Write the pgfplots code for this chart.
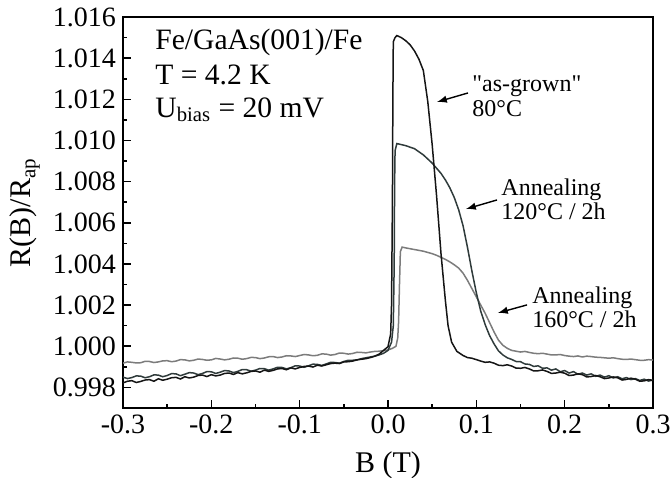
\documentclass[border=0pt]{standalone}
\usepackage{fontspec}
\setmainfont{Liberation Serif}
\newfontfamily\qfont{Liberation Serif}[Ligatures=TeXOff]
\usepackage{pgfplots}
\pgfplotsset{compat=1.18}
\definecolor{cblack}{HTML}{151515}
\definecolor{cdark}{HTML}{2F3B3B}
\definecolor{cgray}{HTML}{7C7C7C}
\begin{document}
\begin{tikzpicture}
\useasboundingbox (-61.5pt,-34.5pt) rectangle (274.5pt,204pt);
\begin{axis}[
  scale only axis, width=265pt, height=195.5pt,
  xmin=-0.3, xmax=0.3, ymin=0.997, ymax=1.016,
  xtick={-0.3,-0.2,-0.1,0,0.1,0.2,0.3},
  ytick={0.998,1.000,1.002,1.004,1.006,1.008,1.010,1.012,1.014,1.016},
  minor x tick num=1, minor y tick num=1,
  tick align=inside, xtick pos=bottom, ytick pos=left,
  major tick length=4pt, minor tick length=2.2pt,
  axis line style={line width=1pt},
  every tick/.style={line width=0.8pt, black},
  tick label style={font=\fontsize{14}{16}\selectfont},
  /pgf/number format/assume math mode=true,
  scaled y ticks=false, scaled x ticks=false,
  yticklabel style={/pgf/number format/.cd, fixed, fixed zerofill, precision=3},
  xticklabel style={/pgf/number format/.cd, fixed, fixed zerofill, precision=1},
  xlabel={B (T)}, ylabel={R(B)/R\textsubscript{ap}},
  label style={font=\fontsize{15}{18}\selectfont},
  xlabel style={at={(axis description cs:0.5,-0.146)}, anchor=center},
  ylabel style={at={(axis description cs:-0.185,0.5)}, anchor=center},
  clip=true,
]
% 160 C / 2h
\addplot[cgray, line width=0.75pt] coordinates {
(-0.30,0.99918)(-0.295,0.99924)(-0.29,0.99922)(-0.285,0.99919)(-0.28,0.99920)(-0.275,0.99927)(-0.27,0.99926)(-0.265,0.99921)(-0.26,0.99924)(-0.255,0.99929)(-0.25,0.99930)(-0.245,0.99925)(-0.24,0.99928)(-0.235,0.99935)(-0.23,0.99934)(-0.225,0.99929)(-0.22,0.99932)(-0.215,0.99938)(-0.21,0.99936)(-0.205,0.99932)(-0.20,0.99934)(-0.195,0.99941)(-0.19,0.99938)(-0.185,0.99934)(-0.18,0.99937)(-0.175,0.99943)(-0.17,0.99942)(-0.165,0.99937)(-0.16,0.99940)(-0.155,0.99946)(-0.15,0.99945)(-0.145,0.99940)(-0.14,0.99943)(-0.135,0.99949)(-0.13,0.99950)(-0.125,0.99945)(-0.12,0.99948)(-0.115,0.99954)(-0.11,0.99953)(-0.105,0.99950)(-0.10,0.99955)(-0.095,0.99960)(-0.09,0.99958)(-0.085,0.99954)(-0.08,0.99956)(-0.075,0.99963)(-0.07,0.99962)(-0.065,0.99957)(-0.06,0.99960)(-0.055,0.99967)(-0.05,0.99966)(-0.045,0.99962)(-0.04,0.99965)(-0.035,0.99971)(-0.03,0.99970)(-0.025,0.99968)(-0.02,0.99972)(-0.015,0.99975)(-0.01,0.99976)(-0.005,0.99979)(0.000,0.99982)(0.005,0.99990)(0.009,1.0000)(0.011,1.0004)(0.012,1.0012)(0.013,1.0030)(0.014,1.0046)(0.016,1.00482)(0.020,1.00478)(0.025,1.00474)(0.030,1.00470)(0.035,1.00466)(0.040,1.00462)(0.045,1.00456)(0.050,1.00450)(0.055,1.00442)(0.060,1.00432)(0.065,1.00422)(0.070,1.00410)(0.075,1.00396)(0.080,1.00380)(0.085,1.00355)(0.090,1.00320)(0.095,1.00280)(0.100,1.00240)(0.105,1.00200)(0.110,1.00160)(0.115,1.00115)(0.120,1.00070)(0.125,1.00030)(0.130,1.00005)(0.135,0.99990)(0.140,0.99980)(0.145,0.99976)(0.15,0.99972)(0.155,0.99975)(0.16,0.99970)(0.165,0.99966)(0.17,0.99964)(0.175,0.99966)(0.18,0.99962)(0.185,0.99958)(0.19,0.99958)(0.195,0.99960)(0.20,0.99955)(0.205,0.99952)(0.21,0.99950)(0.215,0.99953)(0.22,0.99948)(0.225,0.99952)(0.23,0.99950)(0.235,0.99947)(0.24,0.99946)(0.245,0.99944)(0.25,0.99942)(0.255,0.99944)(0.26,0.99940)(0.265,0.99937)(0.27,0.99936)(0.275,0.99938)(0.28,0.99935)(0.285,0.99932)(0.29,0.99932)(0.295,0.99935)(0.30,0.99933)
};
% 120 C / 2h
\addplot[cdark, line width=0.75pt] coordinates {
(-0.30,0.99850)(-0.295,0.99843)(-0.29,0.99848)(-0.285,0.99856)(-0.28,0.99855)(-0.275,0.99847)(-0.27,0.99852)(-0.265,0.99861)(-0.26,0.99860)(-0.255,0.99852)(-0.25,0.99858)(-0.245,0.99867)(-0.24,0.99866)(-0.235,0.99857)(-0.23,0.99864)(-0.225,0.99872)(-0.22,0.99870)(-0.215,0.99862)(-0.21,0.99868)(-0.205,0.99877)(-0.20,0.99876)(-0.195,0.99868)(-0.19,0.99874)(-0.185,0.99882)(-0.18,0.99880)(-0.175,0.99872)(-0.17,0.99878)(-0.165,0.99887)(-0.16,0.99886)(-0.155,0.99879)(-0.15,0.99884)(-0.145,0.99892)(-0.14,0.99891)(-0.135,0.99884)(-0.13,0.99890)(-0.125,0.99898)(-0.12,0.99897)(-0.115,0.99890)(-0.11,0.99896)(-0.105,0.99905)(-0.10,0.99904)(-0.095,0.99898)(-0.09,0.99905)(-0.085,0.99913)(-0.08,0.99912)(-0.075,0.99907)(-0.07,0.99914)(-0.065,0.99922)(-0.06,0.99921)(-0.055,0.99918)(-0.05,0.99926)(-0.045,0.99932)(-0.04,0.99932)(-0.035,0.99934)(-0.03,0.99940)(-0.025,0.99944)(-0.02,0.99948)(-0.015,0.99952)(-0.01,0.99958)(-0.005,0.99966)(0.000,0.99980)(0.004,1.0002)(0.006,1.0010)(0.007,1.0040)(0.0075,1.0080)(0.008,1.0095)(0.010,1.00985)(0.015,1.00980)(0.020,1.00975)(0.030,1.00960)(0.040,1.00930)(0.050,1.00890)(0.060,1.00840)(0.065,1.00808)(0.070,1.00770)(0.075,1.00723)(0.080,1.00663)(0.085,1.00585)(0.090,1.00480)(0.095,1.00365)(0.100,1.00260)(0.105,1.00170)(0.110,1.00105)(0.115,1.00052)(0.120,1.00012)(0.125,0.99978)(0.130,0.99958)(0.135,0.99944)(0.14,0.99936)(0.145,0.99926)(0.15,0.99925)(0.155,0.99914)(0.16,0.99912)(0.165,0.99902)(0.17,0.99905)(0.175,0.99893)(0.18,0.99895)(0.185,0.99884)(0.19,0.99890)(0.195,0.99876)(0.20,0.99882)(0.205,0.99870)(0.21,0.99877)(0.215,0.99864)(0.22,0.99870)(0.225,0.99860)(0.23,0.99866)(0.235,0.99854)(0.24,0.99860)(0.245,0.99850)(0.25,0.99857)(0.255,0.99846)(0.26,0.99852)(0.265,0.99842)(0.27,0.99848)(0.275,0.99838)(0.28,0.99843)(0.285,0.99834)(0.29,0.99840)(0.295,0.99831)(0.30,0.99836)
};
% as-grown
\addplot[cblack, line width=0.75pt] coordinates {
(-0.30,0.99822)(-0.295,0.99830)(-0.29,0.99833)(-0.285,0.99824)(-0.28,0.99829)(-0.275,0.99836)(-0.27,0.99838)(-0.265,0.99830)(-0.26,0.99842)(-0.255,0.99835)(-0.25,0.99840)(-0.245,0.99847)(-0.24,0.99849)(-0.235,0.99841)(-0.23,0.99852)(-0.225,0.99846)(-0.22,0.99850)(-0.215,0.99858)(-0.21,0.99860)(-0.205,0.99853)(-0.20,0.99862)(-0.195,0.99856)(-0.19,0.99860)(-0.185,0.99868)(-0.18,0.99870)(-0.175,0.99863)(-0.17,0.99872)(-0.165,0.99866)(-0.16,0.99871)(-0.155,0.99878)(-0.15,0.99880)(-0.145,0.99874)(-0.14,0.99884)(-0.135,0.99878)(-0.13,0.99883)(-0.125,0.99890)(-0.12,0.99892)(-0.115,0.99886)(-0.11,0.99895)(-0.105,0.99890)(-0.10,0.99897)(-0.095,0.99902)(-0.09,0.99904)(-0.085,0.99899)(-0.08,0.99908)(-0.075,0.99904)(-0.07,0.99910)(-0.065,0.99916)(-0.06,0.99918)(-0.055,0.99916)(-0.05,0.99924)(-0.045,0.99925)(-0.04,0.99928)(-0.035,0.99934)(-0.03,0.99937)(-0.025,0.99940)(-0.02,0.99945)(-0.015,0.99952)(-0.01,0.99962)(-0.005,0.99980)(0.000,0.99998)(0.003,1.0006)(0.004,1.0020)(0.005,1.0070)(0.0055,1.0120)(0.006,1.0148)(0.008,1.0150)(0.010,1.0151)(0.015,1.01500)(0.020,1.01485)(0.025,1.01465)(0.030,1.01435)(0.035,1.01395)(0.040,1.01340)(0.045,1.01190)(0.050,1.00980)(0.055,1.00730)(0.060,1.00450)(0.065,1.00220)(0.068,1.00100)(0.072,1.00020)(0.078,0.99975)(0.085,0.99955)(0.090,0.99945)(0.095,0.99942)(0.10,0.99935)(0.105,0.99928)(0.11,0.99922)(0.115,0.99924)(0.12,0.99918)(0.125,0.99908)(0.13,0.99906)(0.135,0.99910)(0.14,0.99904)(0.145,0.99894)(0.15,0.99893)(0.155,0.99897)(0.16,0.99890)(0.165,0.99880)(0.17,0.99881)(0.175,0.99885)(0.18,0.99878)(0.185,0.99868)(0.19,0.99870)(0.195,0.99874)(0.20,0.99869)(0.205,0.99858)(0.21,0.99860)(0.215,0.99866)(0.22,0.99862)(0.225,0.99851)(0.23,0.99853)(0.235,0.99858)(0.24,0.99852)(0.245,0.99843)(0.25,0.99846)(0.255,0.99851)(0.26,0.99847)(0.265,0.99836)(0.27,0.99839)(0.275,0.99845)(0.28,0.99840)(0.285,0.99830)(0.29,0.99832)(0.295,0.99838)(0.30,0.99834)
};
% annotations
\begin{scope}[every node/.style={font=\fontsize{14.8}{17}\selectfont, inner sep=0pt, anchor=base west}]
\node at (axis cs:-0.2638,1.01440) {Fe/GaAs(001)/Fe};
\node at (axis cs:-0.2638,1.01270) {T = 4.2 K};
\node at (axis cs:-0.2638,1.01114) {U\textsubscript{bias} = 20 mV};
\end{scope}
\begin{scope}[every node/.style={font=\fontsize{12}{14}\selectfont, inner sep=0pt, anchor=base west}]
\node at (axis cs:0.0951,1.01236) {{\qfont"}as-grown{\qfont"}};
\node at (axis cs:0.0951,1.01115) {80°C};
\node at (axis cs:0.128,1.00735) {Annealing};
\node at (axis cs:0.128,1.00614) {120°C / 2h};
\node at (axis cs:0.163,1.00210) {Annealing};
\node at (axis cs:0.163,1.00089) {160°C / 2h};
\end{scope}
\draw[-latex, line width=0.7pt] (axis cs:0.0906,1.01231) -- (axis cs:0.0555,1.01187);
\draw[-latex, line width=0.7pt] (axis cs:0.1234,1.00711) -- (axis cs:0.0883,1.00667);
\draw[-latex, line width=0.7pt] (axis cs:0.1574,1.00201) -- (axis cs:0.1245,1.00162);
\end{axis}
\end{tikzpicture}
\end{document}
